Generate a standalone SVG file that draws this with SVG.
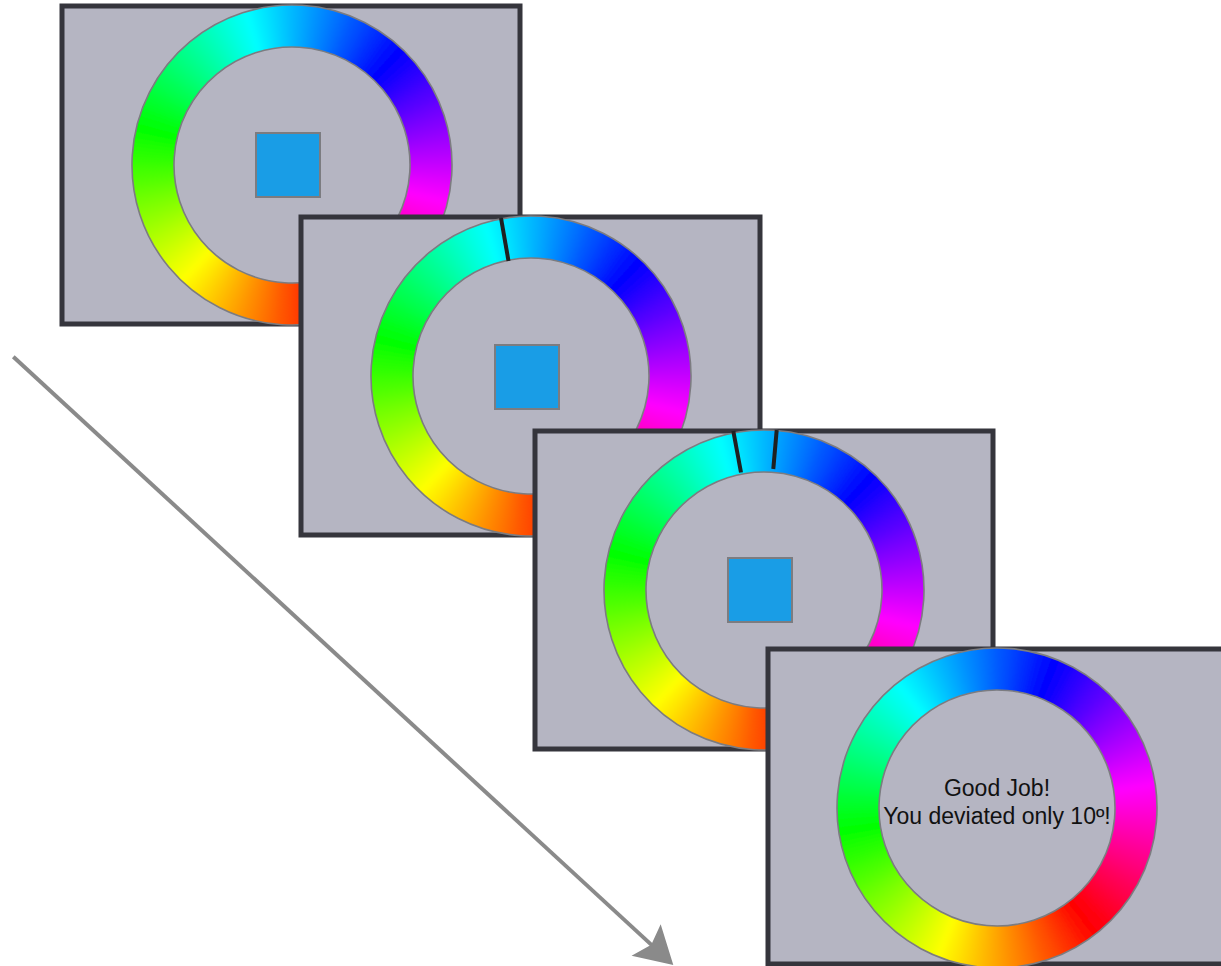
<svg xmlns="http://www.w3.org/2000/svg" xmlns:xlink="http://www.w3.org/1999/xlink" width="1221" height="966" viewBox="0 0 1221 966">
<style>
.panel{fill:#b5b5c2;stroke:#35353c;stroke-width:5}
.rim{fill:none;stroke:#7c7c80;stroke-width:1.6}
.stim{fill:#199de6;stroke:#7c7c80;stroke-width:2}
.mark{stroke:#1f2022;stroke-width:4;stroke-linecap:butt}
.msg{font-family:"Liberation Sans",Arial,sans-serif;font-size:23px;fill:#111;text-anchor:middle}
.arrow{fill:none;stroke:#8a8a8a;stroke-width:4}
</style>
<defs>
<filter id="soft" x="-20%" y="-20%" width="140%" height="140%"><feGaussianBlur stdDeviation="3"/></filter>
<clipPath id="ringclip"><path clip-rule="evenodd" d="M160,0 A160,160 0 1,1 -160,0 A160,160 0 1,1 160,0 Z M118,0 A118,118 0 1,0 -118,0 A118,118 0 1,0 118,0 Z"/></clipPath>
<circle id="sg" r="139" fill="none" stroke-width="62" stroke-dasharray="8.8 900"/>
<g id="wheel">
<g clip-path="url(#ringclip)">
<g filter="url(#soft)">
<use href="#sg" transform="rotate(0)" stroke="hsl(0,100%,50%)"/>
<use href="#sg" transform="rotate(3)" stroke="hsl(3,100%,50%)"/>
<use href="#sg" transform="rotate(6)" stroke="hsl(6,100%,50%)"/>
<use href="#sg" transform="rotate(9)" stroke="hsl(9,100%,50%)"/>
<use href="#sg" transform="rotate(12)" stroke="hsl(12,100%,50%)"/>
<use href="#sg" transform="rotate(15)" stroke="hsl(15,100%,50%)"/>
<use href="#sg" transform="rotate(18)" stroke="hsl(18,100%,50%)"/>
<use href="#sg" transform="rotate(21)" stroke="hsl(21,100%,50%)"/>
<use href="#sg" transform="rotate(24)" stroke="hsl(24,100%,50%)"/>
<use href="#sg" transform="rotate(27)" stroke="hsl(27,100%,50%)"/>
<use href="#sg" transform="rotate(30)" stroke="hsl(30,100%,50%)"/>
<use href="#sg" transform="rotate(33)" stroke="hsl(33,100%,50%)"/>
<use href="#sg" transform="rotate(36)" stroke="hsl(36,100%,50%)"/>
<use href="#sg" transform="rotate(39)" stroke="hsl(39,100%,50%)"/>
<use href="#sg" transform="rotate(42)" stroke="hsl(42,100%,50%)"/>
<use href="#sg" transform="rotate(45)" stroke="hsl(45,100%,50%)"/>
<use href="#sg" transform="rotate(48)" stroke="hsl(48,100%,50%)"/>
<use href="#sg" transform="rotate(51)" stroke="hsl(51,100%,50%)"/>
<use href="#sg" transform="rotate(54)" stroke="hsl(54,100%,50%)"/>
<use href="#sg" transform="rotate(57)" stroke="hsl(57,100%,50%)"/>
<use href="#sg" transform="rotate(60)" stroke="hsl(60,100%,50%)"/>
<use href="#sg" transform="rotate(63)" stroke="hsl(63,100%,50%)"/>
<use href="#sg" transform="rotate(66)" stroke="hsl(66,100%,50%)"/>
<use href="#sg" transform="rotate(69)" stroke="hsl(69,100%,50%)"/>
<use href="#sg" transform="rotate(72)" stroke="hsl(72,100%,50%)"/>
<use href="#sg" transform="rotate(75)" stroke="hsl(75,100%,50%)"/>
<use href="#sg" transform="rotate(78)" stroke="hsl(78,100%,50%)"/>
<use href="#sg" transform="rotate(81)" stroke="hsl(81,100%,50%)"/>
<use href="#sg" transform="rotate(84)" stroke="hsl(84,100%,50%)"/>
<use href="#sg" transform="rotate(87)" stroke="hsl(87,100%,50%)"/>
<use href="#sg" transform="rotate(90)" stroke="hsl(90,100%,50%)"/>
<use href="#sg" transform="rotate(93)" stroke="hsl(93,100%,50%)"/>
<use href="#sg" transform="rotate(96)" stroke="hsl(96,100%,50%)"/>
<use href="#sg" transform="rotate(99)" stroke="hsl(99,100%,50%)"/>
<use href="#sg" transform="rotate(102)" stroke="hsl(102,100%,50%)"/>
<use href="#sg" transform="rotate(105)" stroke="hsl(105,100%,50%)"/>
<use href="#sg" transform="rotate(108)" stroke="hsl(108,100%,50%)"/>
<use href="#sg" transform="rotate(111)" stroke="hsl(111,100%,50%)"/>
<use href="#sg" transform="rotate(114)" stroke="hsl(114,100%,50%)"/>
<use href="#sg" transform="rotate(117)" stroke="hsl(117,100%,50%)"/>
<use href="#sg" transform="rotate(120)" stroke="hsl(120,100%,50%)"/>
<use href="#sg" transform="rotate(123)" stroke="hsl(123,100%,50%)"/>
<use href="#sg" transform="rotate(126)" stroke="hsl(126,100%,50%)"/>
<use href="#sg" transform="rotate(129)" stroke="hsl(129,100%,50%)"/>
<use href="#sg" transform="rotate(132)" stroke="hsl(132,100%,50%)"/>
<use href="#sg" transform="rotate(135)" stroke="hsl(135,100%,50%)"/>
<use href="#sg" transform="rotate(138)" stroke="hsl(138,100%,50%)"/>
<use href="#sg" transform="rotate(141)" stroke="hsl(141,100%,50%)"/>
<use href="#sg" transform="rotate(144)" stroke="hsl(144,100%,50%)"/>
<use href="#sg" transform="rotate(147)" stroke="hsl(147,100%,50%)"/>
<use href="#sg" transform="rotate(150)" stroke="hsl(150,100%,50%)"/>
<use href="#sg" transform="rotate(153)" stroke="hsl(153,100%,50%)"/>
<use href="#sg" transform="rotate(156)" stroke="hsl(156,100%,50%)"/>
<use href="#sg" transform="rotate(159)" stroke="hsl(159,100%,50%)"/>
<use href="#sg" transform="rotate(162)" stroke="hsl(162,100%,50%)"/>
<use href="#sg" transform="rotate(165)" stroke="hsl(165,100%,50%)"/>
<use href="#sg" transform="rotate(168)" stroke="hsl(168,100%,50%)"/>
<use href="#sg" transform="rotate(171)" stroke="hsl(171,100%,50%)"/>
<use href="#sg" transform="rotate(174)" stroke="hsl(174,100%,50%)"/>
<use href="#sg" transform="rotate(177)" stroke="hsl(177,100%,50%)"/>
<use href="#sg" transform="rotate(180)" stroke="hsl(180,100%,50%)"/>
<use href="#sg" transform="rotate(183)" stroke="hsl(183,100%,50%)"/>
<use href="#sg" transform="rotate(186)" stroke="hsl(186,100%,50%)"/>
<use href="#sg" transform="rotate(189)" stroke="hsl(189,100%,50%)"/>
<use href="#sg" transform="rotate(192)" stroke="hsl(192,100%,50%)"/>
<use href="#sg" transform="rotate(195)" stroke="hsl(195,100%,50%)"/>
<use href="#sg" transform="rotate(198)" stroke="hsl(198,100%,50%)"/>
<use href="#sg" transform="rotate(201)" stroke="hsl(201,100%,50%)"/>
<use href="#sg" transform="rotate(204)" stroke="hsl(204,100%,50%)"/>
<use href="#sg" transform="rotate(207)" stroke="hsl(207,100%,50%)"/>
<use href="#sg" transform="rotate(210)" stroke="hsl(210,100%,50%)"/>
<use href="#sg" transform="rotate(213)" stroke="hsl(213,100%,50%)"/>
<use href="#sg" transform="rotate(216)" stroke="hsl(216,100%,50%)"/>
<use href="#sg" transform="rotate(219)" stroke="hsl(219,100%,50%)"/>
<use href="#sg" transform="rotate(222)" stroke="hsl(222,100%,50%)"/>
<use href="#sg" transform="rotate(225)" stroke="hsl(225,100%,50%)"/>
<use href="#sg" transform="rotate(228)" stroke="hsl(228,100%,50%)"/>
<use href="#sg" transform="rotate(231)" stroke="hsl(231,100%,50%)"/>
<use href="#sg" transform="rotate(234)" stroke="hsl(234,100%,50%)"/>
<use href="#sg" transform="rotate(237)" stroke="hsl(237,100%,50%)"/>
<use href="#sg" transform="rotate(240)" stroke="hsl(240,100%,50%)"/>
<use href="#sg" transform="rotate(243)" stroke="hsl(243,100%,50%)"/>
<use href="#sg" transform="rotate(246)" stroke="hsl(246,100%,50%)"/>
<use href="#sg" transform="rotate(249)" stroke="hsl(249,100%,50%)"/>
<use href="#sg" transform="rotate(252)" stroke="hsl(252,100%,50%)"/>
<use href="#sg" transform="rotate(255)" stroke="hsl(255,100%,50%)"/>
<use href="#sg" transform="rotate(258)" stroke="hsl(258,100%,50%)"/>
<use href="#sg" transform="rotate(261)" stroke="hsl(261,100%,50%)"/>
<use href="#sg" transform="rotate(264)" stroke="hsl(264,100%,50%)"/>
<use href="#sg" transform="rotate(267)" stroke="hsl(267,100%,50%)"/>
<use href="#sg" transform="rotate(270)" stroke="hsl(270,100%,50%)"/>
<use href="#sg" transform="rotate(273)" stroke="hsl(273,100%,50%)"/>
<use href="#sg" transform="rotate(276)" stroke="hsl(276,100%,50%)"/>
<use href="#sg" transform="rotate(279)" stroke="hsl(279,100%,50%)"/>
<use href="#sg" transform="rotate(282)" stroke="hsl(282,100%,50%)"/>
<use href="#sg" transform="rotate(285)" stroke="hsl(285,100%,50%)"/>
<use href="#sg" transform="rotate(288)" stroke="hsl(288,100%,50%)"/>
<use href="#sg" transform="rotate(291)" stroke="hsl(291,100%,50%)"/>
<use href="#sg" transform="rotate(294)" stroke="hsl(294,100%,50%)"/>
<use href="#sg" transform="rotate(297)" stroke="hsl(297,100%,50%)"/>
<use href="#sg" transform="rotate(300)" stroke="hsl(300,100%,50%)"/>
<use href="#sg" transform="rotate(303)" stroke="hsl(303,100%,50%)"/>
<use href="#sg" transform="rotate(306)" stroke="hsl(306,100%,50%)"/>
<use href="#sg" transform="rotate(309)" stroke="hsl(309,100%,50%)"/>
<use href="#sg" transform="rotate(312)" stroke="hsl(312,100%,50%)"/>
<use href="#sg" transform="rotate(315)" stroke="hsl(315,100%,50%)"/>
<use href="#sg" transform="rotate(318)" stroke="hsl(318,100%,50%)"/>
<use href="#sg" transform="rotate(321)" stroke="hsl(321,100%,50%)"/>
<use href="#sg" transform="rotate(324)" stroke="hsl(324,100%,50%)"/>
<use href="#sg" transform="rotate(327)" stroke="hsl(327,100%,50%)"/>
<use href="#sg" transform="rotate(330)" stroke="hsl(330,100%,50%)"/>
<use href="#sg" transform="rotate(333)" stroke="hsl(333,100%,50%)"/>
<use href="#sg" transform="rotate(336)" stroke="hsl(336,100%,50%)"/>
<use href="#sg" transform="rotate(339)" stroke="hsl(339,100%,50%)"/>
<use href="#sg" transform="rotate(342)" stroke="hsl(342,100%,50%)"/>
<use href="#sg" transform="rotate(345)" stroke="hsl(345,100%,50%)"/>
<use href="#sg" transform="rotate(348)" stroke="hsl(348,100%,50%)"/>
<use href="#sg" transform="rotate(351)" stroke="hsl(351,100%,50%)"/>
<use href="#sg" transform="rotate(354)" stroke="hsl(354,100%,50%)"/>
<use href="#sg" transform="rotate(357)" stroke="hsl(357,100%,50%)"/>
</g>
</g>
<circle class="rim" r="160"/>
<circle class="rim" r="118"/>
</g>
<marker id="head" markerUnits="userSpaceOnUse" markerWidth="40" markerHeight="46" refX="11" refY="22" orient="auto" overflow="visible">
<path d="M37,22 L0,0.5 L7,22 L0,43.5 Z" fill="#8a8a8a"/>
</marker>
</defs>

<g id="connectors">
<line class="arrow" x1="13.3" y1="356.7" x2="654.2" y2="947.4" marker-end="url(#head)"/>
</g>

<g id="panel1">
<rect class="panel" x="62" y="6" width="458" height="318"/>
<use href="#wheel" transform="translate(292,165) rotate(72)"/>
<rect class="stim" x="256" y="133" width="64" height="64"/>
</g>

<g id="panel2">
<rect class="panel" x="301" y="217" width="459" height="318"/>
<use href="#wheel" transform="translate(531,376) rotate(72)"/>
<line class="mark" x1="501" y1="218" x2="508.5" y2="261"/>
<rect class="stim" x="495" y="345" width="64" height="64"/>
</g>

<g id="panel3">
<rect class="panel" x="535" y="431" width="458" height="318"/>
<use href="#wheel" transform="translate(764,590) rotate(72)"/>
<line class="mark" x1="733.3" y1="431" x2="741" y2="472.5"/>
<line class="mark" x1="776.7" y1="430" x2="773.3" y2="469"/>
<rect class="stim" x="728" y="558" width="64" height="64"/>
</g>

<g id="panel4">
<rect class="panel" x="768" y="649" width="460" height="315"/>
<use href="#wheel" transform="translate(997,808) rotate(50)"/>
<text class="msg" x="997" y="796">Good Job!</text>
<text class="msg" x="997" y="824">You deviated only 10º!</text>
</g>
</svg>
